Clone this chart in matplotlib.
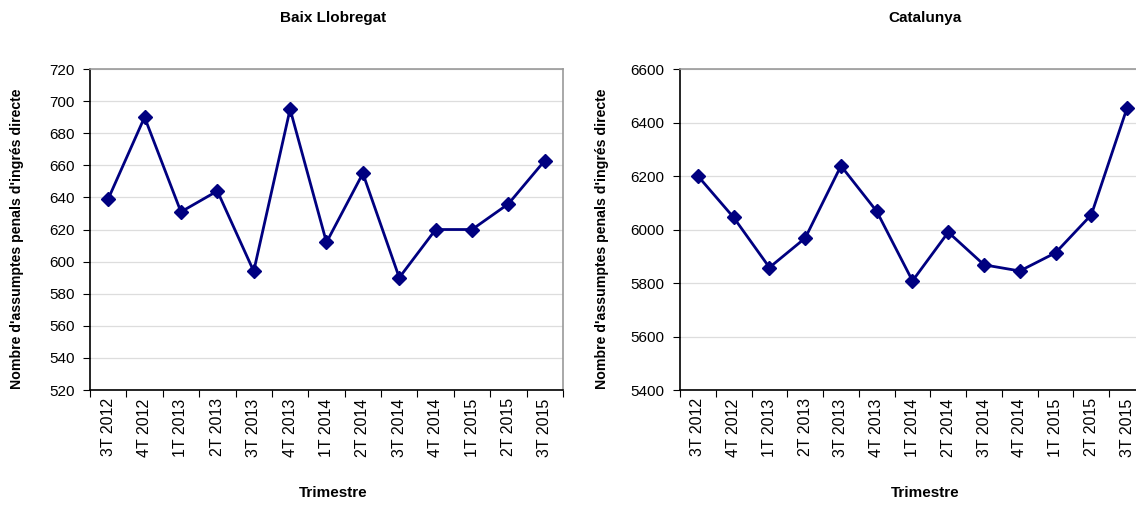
import matplotlib.pyplot as plt

plt.rcParams['font.family'] = ['Liberation Sans', 'DejaVu Sans']

trimestres = ['3T 2012', '4T 2012', '1T 2013', '2T 2013', '3T 2013', '4T 2013',
              '1T 2014', '2T 2014', '3T 2014', '4T 2014', '1T 2015', '2T 2015', '3T 2015']
baix_llobregat = [639, 690, 631, 644, 594, 695, 612, 655, 590, 620, 620, 636, 663]
catalunya = [6200, 6045, 5858, 5968, 6238, 6068, 5808, 5990, 5868, 5845, 5913, 6055, 6455]

panels = [
    ("Baix Llobregat", baix_llobregat, (520, 720), 20, [0.0792, 0.2277, 0.4164, 0.6356], 0.293, -0.14),
    ("Catalunya", catalunya, (5400, 6600), 200, [0.5986, 0.2277, 0.4093, 0.6356], 0.814, -0.153),
]

fig = plt.figure(figsize=(11.36, 5.05), dpi=100)

for title, values, ylim, step, pos, xc, lx in panels:
    ax = fig.add_axes(pos)
    n = len(values)
    x = list(range(n))
    ax.plot(x, values, color='#000080', lw=2, marker='D', ms=7, zorder=3)
    ax.set_xlim(-0.5, n - 0.5)
    ax.set_ylim(*ylim)
    ax.set_yticks(range(ylim[0], ylim[1] + 1, step))
    ax.yaxis.grid(True, color='#dddddd', lw=0.9)
    ax.set_axisbelow(True)

    # ticks between categories, labels at centres
    ax.set_xticks([i - 0.5 for i in range(n + 1)])
    ax.set_xticklabels([])
    ax.set_xticks(x, minor=True)
    ax.set_xticklabels(trimestres, minor=True, rotation=90, fontsize=11.5)
    ax.tick_params(axis='x', which='minor', length=0, pad=6)
    ax.tick_params(axis='x', which='major', length=5, direction='out')
    ax.tick_params(axis='y', length=5, direction='out', labelsize=11, pad=6)

    ax.spines['left'].set_color('black')
    ax.spines['bottom'].set_color('black')
    ax.spines['top'].set_color('#999999')
    ax.spines['right'].set_color('#999999')
    for s in ax.spines.values():
        s.set_linewidth(1.2)

    ax.set_ylabel("Nombre d'assumptes penals d'ingrés directe", fontsize=10.2,
                  fontweight='bold')
    ax.yaxis.set_label_coords(lx, 0.47)
    fig.text(xc, 0.965, title, ha='center', va='center', fontsize=11, fontweight='bold')
    fig.text(xc, 0.024, "Trimestre", ha='center', va='center', fontsize=11, fontweight='bold')

fig.savefig('out.png', dpi=100)
